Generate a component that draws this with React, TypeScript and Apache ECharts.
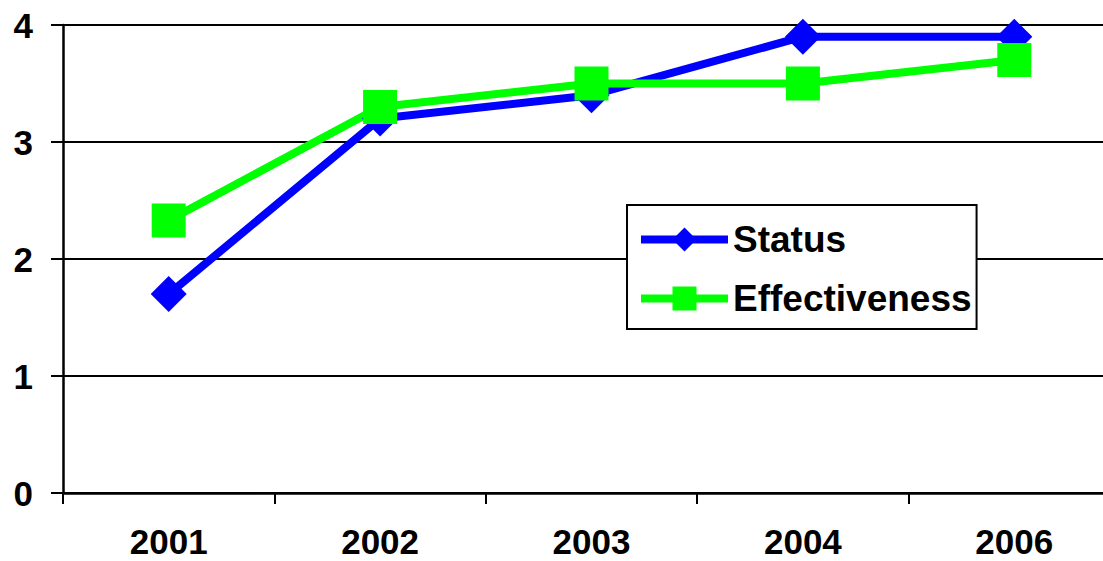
import React, { useEffect, useRef } from "react";
import * as echarts from "echarts";

const categories = ["2001", "2002", "2003", "2004", "2006"];
const statusValues = [1.7, 3.2, 3.4, 3.9, 3.9];
const effectivenessValues = [2.33, 3.3, 3.5, 3.5, 3.7];
const seriesNames = ["Status", "Effectiveness"];

export default function App() {
  const ref = useRef<HTMLDivElement>(null);
  useEffect(() => {
    document.body.style.margin = "0";
    const chart = echarts.init(ref.current!, null, { renderer: "svg" });
    const font = "'Liberation Sans', Arial, sans-serif";
    chart.setOption({
      animation: false,
      backgroundColor: "#ffffff",
      grid: { left: 63, top: 25, bottom: 68, right: 0, containLabel: false },
      legend: {
        data: seriesNames,
        orient: "vertical",
        left: 627,
        top: 205,
        padding: [16, 5, 12, 10],
        itemWidth: 87,
        itemHeight: 30,
        itemGap: 22,
        backgroundColor: "#ffffff",
        borderColor: "#000000",
        borderWidth: 2,
        borderRadius: 0,
        lineStyle: { width: 8 },
        textStyle: { fontFamily: font, fontWeight: "bold", fontSize: 37, color: "#000" },
      },
      xAxis: {
        type: "category",
        data: categories,
        boundaryGap: true,
        axisLine: { lineStyle: { color: "#000", width: 2.5 } },
        axisTick: { show: true, length: 11, lineStyle: { color: "#000", width: 2 } },
        axisLabel: { fontFamily: font, fontWeight: "bold", fontSize: 35, color: "#000", margin: 31 },
      },
      yAxis: {
        type: "value",
        min: 0,
        max: 4,
        interval: 1,
        axisLine: { show: true, lineStyle: { color: "#000", width: 2.5 } },
        axisTick: { show: true, length: 12, lineStyle: { color: "#000", width: 2 } },
        splitLine: { show: true, lineStyle: { color: "#000", width: 2 } },
        axisLabel: { fontFamily: font, fontWeight: "bold", fontSize: 35, color: "#000", margin: 30 },
      },
      series: [
        {
          name: seriesNames[0],
          type: "line",
          data: statusValues,
          symbol: "diamond",
          symbolSize: [36, 36],
          lineStyle: { color: "#0000ff", width: 8 },
          itemStyle: { color: "#0000ff" },
        },
        {
          name: seriesNames[1],
          type: "line",
          data: effectivenessValues,
          symbol: "rect",
          symbolSize: 34,
          lineStyle: { color: "#00ff00", width: 8 },
          itemStyle: { color: "#00ff00" },
        },
      ],
    });
    return () => chart.dispose();
  }, []);
  return (
    <div style={{ width: 1103, height: 561, position: "absolute", left: 0, top: 0, overflow: "hidden" }}>
      <div ref={ref} style={{ width: 1120, height: 561 }} />
    </div>
  );
}
